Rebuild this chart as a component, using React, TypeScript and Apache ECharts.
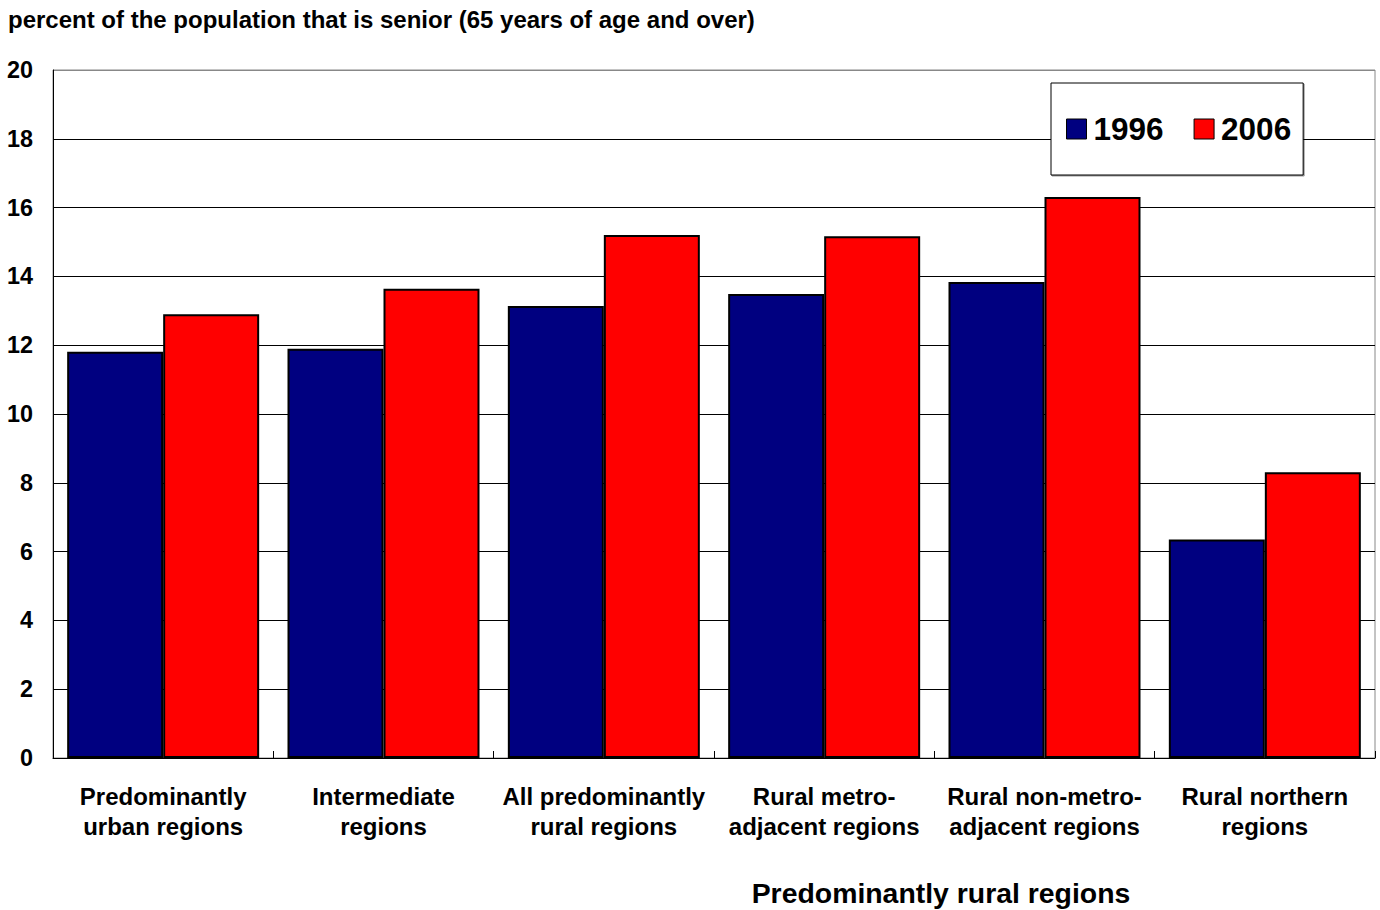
import React, { useEffect, useRef } from "react";
import * as echarts from "echarts";

const categories = [
  "Predominantly\nurban regions",
  "Intermediate\nregions",
  "All predominantly\nrural regions",
  "Rural metro-\nadjacent regions",
  "Rural non-metro-\nadjacent regions",
  "Rural northern\nregions",
];
const values1996 = [11.81, 11.9, 13.14, 13.49, 13.84, 6.35];
const values2006 = [12.9, 13.64, 15.2, 15.17, 16.31, 8.31];
const seriesNames = ["1996", "2006"];
const titleText = "percent of the population that is senior (65 years of age and over)";
const groupLabel = "Predominantly rural regions";

export default function App() {
  const ref = useRef<HTMLDivElement>(null);
  useEffect(() => {
    if (!ref.current) return;
    const chart = echarts.init(ref.current, undefined, { renderer: "svg" });
    const font = "Arial, 'Liberation Sans', Helvetica, sans-serif";
    const gridColors = ["#000", "#000", "#000", "#000", "#000", "#000", "#000", "#000", "#000", "#000", "#888"];
    chart.setOption({
      animation: false,
      textStyle: { fontFamily: font },
      grid: {
        left: 53,
        top: 70,
        right: 5,
        bottom: 152,
        show: true,
        borderColor: "#888",
        borderWidth: 1,
      },
      title: {
        text: titleText,
        left: 8,
        top: 7,
        padding: 0,
        textStyle: { fontSize: 24, fontWeight: "bold", color: "#000", fontFamily: font },
      },
      legend: {
        left: 1051,
        top: 83,
        padding: [30, 12, 30, 15],
        itemGap: 30,
        itemWidth: 20,
        itemHeight: 20,
        itemStyle: { borderColor: "#000", borderWidth: 1 },
        borderColor: "#000",
        borderWidth: 1,
        backgroundColor: "#fff",
        shadowColor: "rgba(0,0,0,0.4)",
        shadowOffsetX: 1,
        shadowOffsetY: 1,
        shadowBlur: 0,
        icon: "rect",
        textStyle: { fontSize: 31.5, fontWeight: "bold", color: "#000", fontFamily: font, padding: [0, 0, 0, 2] },
        data: seriesNames,
      },
      xAxis: {
        type: "category",
        data: categories,
        axisLine: { lineStyle: { color: "#000", width: 1 } },
        axisTick: { show: true, inside: true, length: 7, lineStyle: { color: "#000" } },
        axisLabel: {
          fontSize: 24,
          fontWeight: "bold",
          color: "#000",
          lineHeight: 30,
          margin: 23,
          fontFamily: font,
          interval: 0,
        },
      },
      yAxis: {
        type: "value",
        min: 0,
        max: 20,
        interval: 2,
        axisLine: { show: true, lineStyle: { color: "#000" } },
        axisTick: { show: false },
        splitLine: { lineStyle: { color: gridColors, width: 1 } },
        axisLabel: {
          fontSize: 23.4,
          fontWeight: "bold",
          color: "#000",
          margin: 20,
          fontFamily: font,
        },
      },
      series: [
        {
          name: seriesNames[0],
          type: "bar",
          data: values1996,
          barWidth: 96,
          barGap: "0%",
          itemStyle: { color: "#000080", borderColor: "#000", borderWidth: 2 },
        },
        {
          name: seriesNames[1],
          type: "bar",
          data: values2006,
          barWidth: 96,
          barGap: "0%",
          itemStyle: { color: "#ff0000", borderColor: "#000", borderWidth: 2 },
        },
      ],
      graphic: [
        {
          type: "text",
          x: 941,
          y: 893,
          style: {
            text: groupLabel,
            fontSize: 28.4,
            fontWeight: "bold",
            fill: "#000",
            fontFamily: font,
            align: "center",
            verticalAlign: "middle",
          },
        },
      ],
    });
    return () => chart.dispose();
  }, []);
  return (
    <div
      ref={ref}
      style={{ position: "fixed", left: 0, top: 0, width: 1380, height: 910, background: "#fff" }}
    />
  );
}
